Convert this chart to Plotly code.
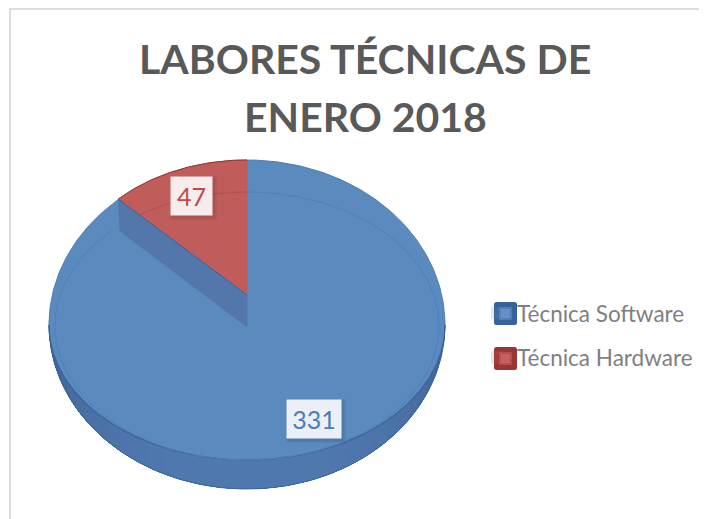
import numpy as np
import plotly.graph_objects as go

categories = ["Técnica Software", "Técnica Hardware"]
values = [331, 47]
title_lines = ["LABORES TÉCNICAS DE", "ENERO 2018"]

BLUE, BLUE_DARK, BLUE_WALL, BLUE_LINE = "#5b8abf", "#3a659b", "#5477ab", "#4f80b8"
RED, RED_DARK, RED_LINE = "#c05c5a", "#9a3534", "#b04e4e"
KEY_FILL = ["#6391c9", "#c9615f"]
KEY_EDGE = ["#386199", "#983635"]

cx = 247
sweep = np.radians(values[1] / sum(values) * 360)

fig = go.Figure()


def poly(x, y, fill, line=None, lw=0.8):
    fig.add_trace(go.Scatter(x=list(x), y=list(y), mode="lines", fill="toself", fillcolor=fill,
                             line=dict(color=line or fill, width=lw), hoverinfo="skip", showlegend=False))


def stroke(x, y, color, width=1):
    fig.add_trace(go.Scatter(x=list(x), y=list(y), mode="lines", line=dict(color=color, width=width),
                             hoverinfo="skip", showlegend=False))


def mix(a, b, f):
    ca = np.array([int(a[i:i + 2], 16) for i in (1, 3, 5)])
    cb = np.array([int(b[i:i + 2], 16) for i in (1, 3, 5)])
    return "#%02x%02x%02x" % tuple((ca + (cb - ca) * f).astype(int))


# pie side, shaded across the front with overlapping strips
rx, cy, ry_top, ry_out, ry_face = 198, 325, 165, 164, 135
n = 36
for i in range(n):
    a = np.linspace(np.pi * i / n, np.pi, 60)
    s = abs((i + 0.5) / n - 0.5) * 2
    col = mix("#5079b0", "#3a5a88", s ** 2.5)
    poly(np.r_[cx + rx * np.cos(a), (cx + rx * np.cos(a))[::-1]],
         np.r_[cy + ry_out * np.sin(a), (cy + ry_face * np.sin(a))[::-1]], col, col, 0)

# pie face for the large series
a = np.linspace(0, 2 * np.pi, 361)
poly(cx + rx * np.cos(a), cy + np.where(np.sin(a) < 0, ry_top, ry_face) * np.sin(a), BLUE, "#4e7cb3", 1)

# lower rim edge lines
a = np.linspace(0, np.pi, 181)
stroke(cx + rx * np.cos(a), cy + ry_face * np.sin(a), BLUE_DARK, 1.2)
stroke(cx + rx * np.cos(a), cy + ry_out * np.sin(a), BLUE_DARK, 1)

# inner bevel line, blue part
a = np.linspace(0, 2 * np.pi - sweep, 240)
stroke(cx + 192 * np.sin(a), 326 - 134 * np.cos(a), BLUE_LINE, 1)

# small series wedge
sx, sy, srx, sry, depth = cx, 295, 183, 135, 32
a = np.linspace(-sweep, 0, 60)
arc_x, arc_y = sx + srx * np.sin(a), sy - sry * np.cos(a)
poly(np.r_[sx, arc_x, sx], np.r_[sy, arc_y, sy], RED, RED)
stroke(arc_x, arc_y, RED_DARK, 1)

# bevel line on the wedge
a = np.linspace(-sweep * 0.83, 0, 40)
stroke(cx + 192 * np.sin(a), 326 - 134 * np.cos(a), RED_LINE, 1)

# notch wall between wedge and face
ex, ey = sx + srx * np.sin(-sweep), sy - sry * np.cos(sweep)
poly([ex, sx, sx, ex + 2, ex], [ey, sy, sy + depth, ey + depth, ey], BLUE_WALL, BLUE_WALL)
stroke([ex, sx], [ey, sy], BLUE_DARK, 1)

# legend entries: text from the legend, keys drawn next to the text
for name, fill in zip(categories, KEY_FILL):
    fig.add_trace(go.Scatter(x=[None], y=[None], mode="markers", name=name, legendgroup=name,
                             marker=dict(symbol="square", size=12, color=fill, opacity=0)))


def rounded(x0, y0, x1, y1, r):
    return (f"M{x0 + r},{y0} L{x1 - r},{y0} Q{x1},{y0} {x1},{y0 + r} L{x1},{y1 - r} Q{x1},{y1} {x1 - r},{y1} "
            f"L{x0 + r},{y1} Q{x0},{y1} {x0},{y1 - r} L{x0},{y0 + r} Q{x0},{y0} {x0 + r},{y0} Z")


for top, fill, edge in zip([302, 347], KEY_FILL, KEY_EDGE):
    fig.add_shape(type="path", path=rounded(494, top, 517, top + 23, 2.5), fillcolor=edge, line_width=0)
    fig.add_shape(type="rect", x0=499, y0=top + 5, x1=512, y1=top + 18,
                  fillcolor=mix(edge, fill, 0.6), line_width=0)
    fig.add_shape(type="rect", x0=501, y0=top + 7, x1=510, y1=top + 16, fillcolor=fill, line_width=0)

# chart frame
fig.add_shape(type="rect", x0=10, y0=9, x1=740, y1=560, line=dict(color="#dcdcdc", width=2))

# title
for text, y in zip(title_lines, [58, 116]):
    fig.add_annotation(x=365, y=y, text=text, showarrow=False, xanchor="center", yanchor="middle",
                       font=dict(family="Lato", size=41, color="#595959", weight="bold"))

# data labels with a soft shadow
labels = [(values[0], 314, 419, 54, 38, "#4a7ebb"), (values[1], 191.5, 196, 41, 38, "#be4b48")]
for val, x, y, w, h, col in labels:
    for grow, alpha in [(3, 0.05), (1.5, 0.06)]:
        fig.add_shape(type="rect", x0=x - w / 2 + 2 - grow, x1=x + w / 2 + 2 + grow,
                      y0=y - h / 2 + 2 - grow, y1=y + h / 2 + 2 + grow,
                      fillcolor=f"rgba(0,0,0,{alpha})", line_width=0)
    fig.add_annotation(x=x, y=y, text=str(val), showarrow=False, width=w, height=h,
                       bgcolor="rgba(255,255,255,0.89)", borderpad=0,
                       font=dict(family="Lato", size=25, color=col))

# The page body has an 8 px margin, so the axes start at 8 to keep the drawing where it belongs.
fig.update_layout(
    width=699, height=511, margin=dict(l=0, r=0, t=0, b=0), paper_bgcolor="white", plot_bgcolor="white",
    xaxis=dict(range=[8, 707], visible=False, fixedrange=True),
    yaxis=dict(range=[519, 8], visible=False, fixedrange=True),
    legend=dict(x=469 / 699, y=1 - 284 / 511, xanchor="left", yanchor="top", bgcolor="rgba(0,0,0,0)",
                font=dict(family="Lato", size=22.5, color="#7f7f7f"), tracegroupgap=12,
                itemclick=False, itemdoubleclick=False),
)
fig.write_html("out.html")
